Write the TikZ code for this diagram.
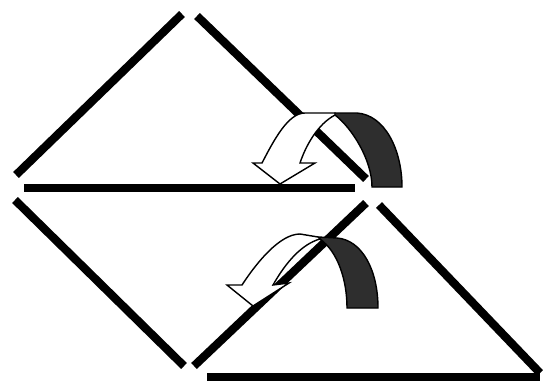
\documentclass[tikz,border=0pt]{standalone}
\usepackage{tikz}
\usetikzlibrary{calc}
\tikzset{
  bar/.style={line width=4.7pt, line cap=butt, color=black},
  ribbonback/.style={draw=black, line width=0.8pt, fill=black!82},
  ribbonfront/.style={draw=black, line width=0.8pt, fill=white, line join=miter},
}

\begin{document}
\begin{tikzpicture}[x=0.02cm, y=-0.02cm]
  \useasboundingbox (0,0) rectangle (544,382);

  % upper triangle
  \coordinate (ul) at (16,175);
  \coordinate (ut) at (182,14);
  \coordinate (ut2) at (197,16);
  \coordinate (ur) at (366,179);
  \coordinate (ub1) at (24,188);
  \coordinate (ub2) at (355,188);
  % lower pieces
  \coordinate (ll) at (15,200);
  \coordinate (lb) at (184,366);
  \coordinate (lb2) at (194,366);
  \coordinate (lr) at (366,203);
  \coordinate (rt) at (379,205);
  \coordinate (rb) at (540,373);
  \coordinate (bb1) at (207,377);
  \coordinate (bb2) at (540,377);

  \draw[bar] (ul) -- (ut);
  \draw[bar] (ut2) -- (ur);
  \draw[bar] (ub1) -- (ub2);  % base line
  \draw[bar] (ll) -- (lb);
  \draw[bar] (lb2) -- (lr);
  \draw[bar] (rt) -- (rb);
  \draw[bar] (bb1) -- (bb2);  % bottom base line

  % upper folding arrow
  \draw[ribbonback] (335,113) -- (357,113) .. controls (385,115) and (402,150) .. (402,187)
    -- (372,187) .. controls (372,160) and (352,128) .. (335,115) -- cycle;
  \draw[ribbonfront] (335,113) -- (305,113) .. controls (288,113) and (274,140) .. (262,163)
    -- (253,163) -- (280,184) -- (315,163) -- (300,163)
    .. controls (306,145) and (318,124) .. (335,115) -- cycle;

  % lower folding arrow
  \draw[ribbonback] (318,237) -- (337,238) .. controls (362,240) and (378,270) .. (378,308)
    -- (347,308) .. controls (347,280) and (338,252) .. (320,239) -- cycle;
  \draw[ribbonfront] (318,237) -- (300,234) .. controls (280,234) and (257,262) .. (242,285)
    -- (227,285) -- (253,306) -- (289,283) -- (273,285)
    .. controls (286,262) and (302,244) .. (320,239) -- cycle;
\end{tikzpicture}
\end{document}
